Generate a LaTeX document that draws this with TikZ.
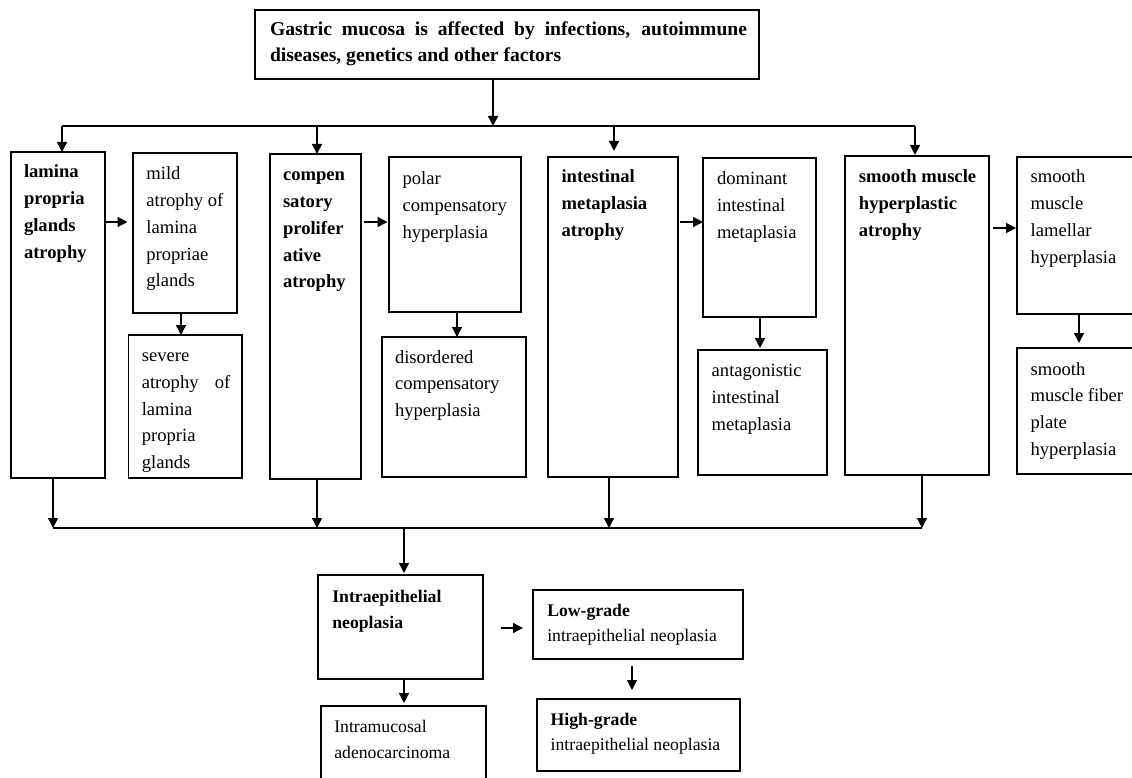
\documentclass[tikz,border=0pt]{standalone}
\usepackage{fontspec}
\setmainfont{Liberation Serif}
\usetikzlibrary{arrows.meta}
\tikzset{
  box/.style={draw, line width=1.4pt, anchor=north west, inner sep=0pt, outer sep=0pt},
  txt/.style={anchor=base west, inner sep=0pt, outer sep=0pt},
  arr/.style={line width=1.4pt, -{Triangle[length=10pt,width=10pt]}},
  bus/.style={line width=1.4pt},
}
\newcommand\fsA{\fontsize{18.6}{26.7}\selectfont}
\newcommand\fsB{\fontsize{17.7}{25.7}\selectfont}
\newcommand\fsT{\fontsize{19.6}{26}\selectfont}
\newcommand\mkbox[5]{\node[box, minimum width=#4pt-#2pt, minimum height=#5pt-#3pt] (#1) at (#2,#3) {};}
\newcommand\lines[2]{\parbox[t]{300pt}{#1\raggedright #2}}
\begin{document}
\begin{tikzpicture}[x=1pt,y=-1pt]
\useasboundingbox (0,0) rectangle (1132,778);
\fill[white] (0,0) rectangle (1132,778);
\clip (0,0) rectangle (1132,778);

% boxes
\mkbox{T}{255}{10}{759}{79}
\mkbox{A}{11}{152}{105}{478}
\mkbox{B}{133}{153}{237}{313}
\mkbox{C}{128.6}{335}{242}{478}
\mkbox{D}{270}{154}{361}{479}
\mkbox{E}{389}{157}{521}{312}
\mkbox{F}{382}{337}{526}{477}
\mkbox{G}{548}{157}{678}{477}
\mkbox{H}{703}{158}{816}{317}
\mkbox{J}{698}{350}{827}{475}
\mkbox{K}{845}{156}{989}{475}
\mkbox{L}{1017}{157}{1160}{314}
\mkbox{M}{1017}{348}{1160}{474}
\mkbox{N}{318}{575}{483}{679}
\mkbox{P}{533}{590}{743}{659}
\mkbox{Q}{537}{699}{740}{771}
\mkbox{R}{321}{706}{486}{800}

% texts
\node[txt] (Tt) at (270,35.7) {\parbox[t]{480pt}{\fsT\bfseries
  \makebox[477pt][s]{Gastric mucosa is affected by infections, autoimmune}\\
  diseases, genetics and other factors}};
\node[txt] (At) at (24,178) {\lines{\fsA\bfseries}{lamina\\propria\\glands\\atrophy}};
\node[txt] (Bt) at (146.4,180) {\lines{\fsA}{mild\\atrophy of\\lamina\\propriae\\glands}};
\node[txt] (Ct) at (141.8,361.7) {\lines{\fsA}{severe\\\makebox[88.6pt][s]{atrophy of}\\lamina\\propria\\glands}};
\node[txt] (Dt) at (283,181) {\lines{\fsA\bfseries}{compen\\satory\\prolifer\\ative\\atrophy}};
\node[txt] (Et) at (402.5,185) {\lines{\fsA}{polar\\compensatory\\hyperplasia}};
\node[txt] (Ft) at (395,363) {\lines{\fsA}{disordered\\compensatory\\hyperplasia}};
\node[txt] (Gt) at (561.5,183) {\lines{\fsA\bfseries}{intestinal\\metaplasia\\atrophy}};
\node[txt] (Ht) at (717,185) {\lines{\fsA}{dominant\\intestinal\\metaplasia}};
\node[txt] (Jt) at (711.7,376.7) {\lines{\fsA}{antagonistic\\intestinal\\metaplasia}};
\node[txt] (Kt) at (858.9,182.7) {\lines{\fsA\bfseries}{smooth muscle\\hyperplastic\\atrophy}};
\node[txt] (Lt) at (1030.6,183) {\lines{\fsA}{smooth\\muscle\\lamellar\\hyperplasia}};
\node[txt] (Mt) at (1030.6,375) {\lines{\fsA}{smooth\\muscle fiber\\plate\\hyperplasia}};
\node[txt] (Nt) at (332.3,602.7) {\lines{\fsB\bfseries}{Intraepithelial\\neoplasia}};
\node[txt] (Pt) at (547.3,616) {\lines{\fsB}{\textbf{Low-grade}\\intraepithelial neoplasia}};
\node[txt] (Qt) at (550.7,725) {\lines{\fsB}{\textbf{High-grade}\\intraepithelial neoplasia}};
\node[txt] (Rt) at (334.3,732.7) {\lines{\fsB}{Intramucosal\\adenocarcinoma}};

% top bus
\coordinate (tbm) at (493,126);
\coordinate (t1) at (62,126);
\coordinate (t2) at (317,126);
\coordinate (t3) at (614,126);
\coordinate (t4) at (915,126);
\draw[arr] (T.south -| tbm) -- (tbm);
\draw[bus] (t1) -- (t4);
\draw[arr] (t1) -- (t1 |- A.north);
\draw[arr] (t2) -- (t2 |- D.north);
\draw[arr, shorten >=6pt] (t3) -- (t3 |- G.north);
\draw[arr, shorten >=1pt] (t4) -- (t4 |- K.north);

% side arrows
\draw[arr, shorten <=1pt, shorten >=5.5pt] (A.east |- 0,222) -- (B.west |- 0,222);
\draw[arr, shorten <=3pt, shorten >=1.5pt] (D.east |- 0,222) -- (E.west |- 0,222);
\draw[arr, shorten <=2pt] (G.east |- 0,222) -- (H.west |- 0,222);
\draw[arr, shorten <=4pt, shorten >=1pt] (K.east |- 0,228) -- (L.west |- 0,228);
\draw[arr, shorten <=18pt, shorten >=10pt] (N.east |- 0,628) -- (P.west |- 0,628);

% vertical sub-arrows
\draw[arr] (181,0 |- B.south) -- (181,0 |- C.north);
\draw[arr] (457,0 |- E.south) -- (457,0 |- F.north);
\draw[arr, shorten >=2pt] (760,0 |- H.south) -- (760,0 |- J.north);
\draw[arr, shorten >=5pt] (1079,0 |- L.south) -- (1079,0 |- M.north);
\draw[arr, shorten >=3pt] (404,0 |- N.south) -- (404,0 |- R.north);
\draw[arr, shorten <=7pt, shorten >=9pt] (632,0 |- P.south) -- (632,0 |- Q.north);

% bottom bus
\coordinate (b1) at (53,528);
\coordinate (b2) at (317,528);
\coordinate (b3) at (609,528);
\coordinate (b4) at (922,528);
\coordinate (bm) at (404,528);
\draw[bus] (b1) -- (b4);
\draw[arr] (b1 |- A.south) -- (b1);
\draw[arr] (b2 |- D.south) -- (b2);
\draw[arr] (b3 |- G.south) -- (b3);
\draw[arr] (b4 |- K.south) -- (b4);
\draw[arr, shorten >=2pt] (bm) -- (bm |- N.north);
\end{tikzpicture}
\end{document}
